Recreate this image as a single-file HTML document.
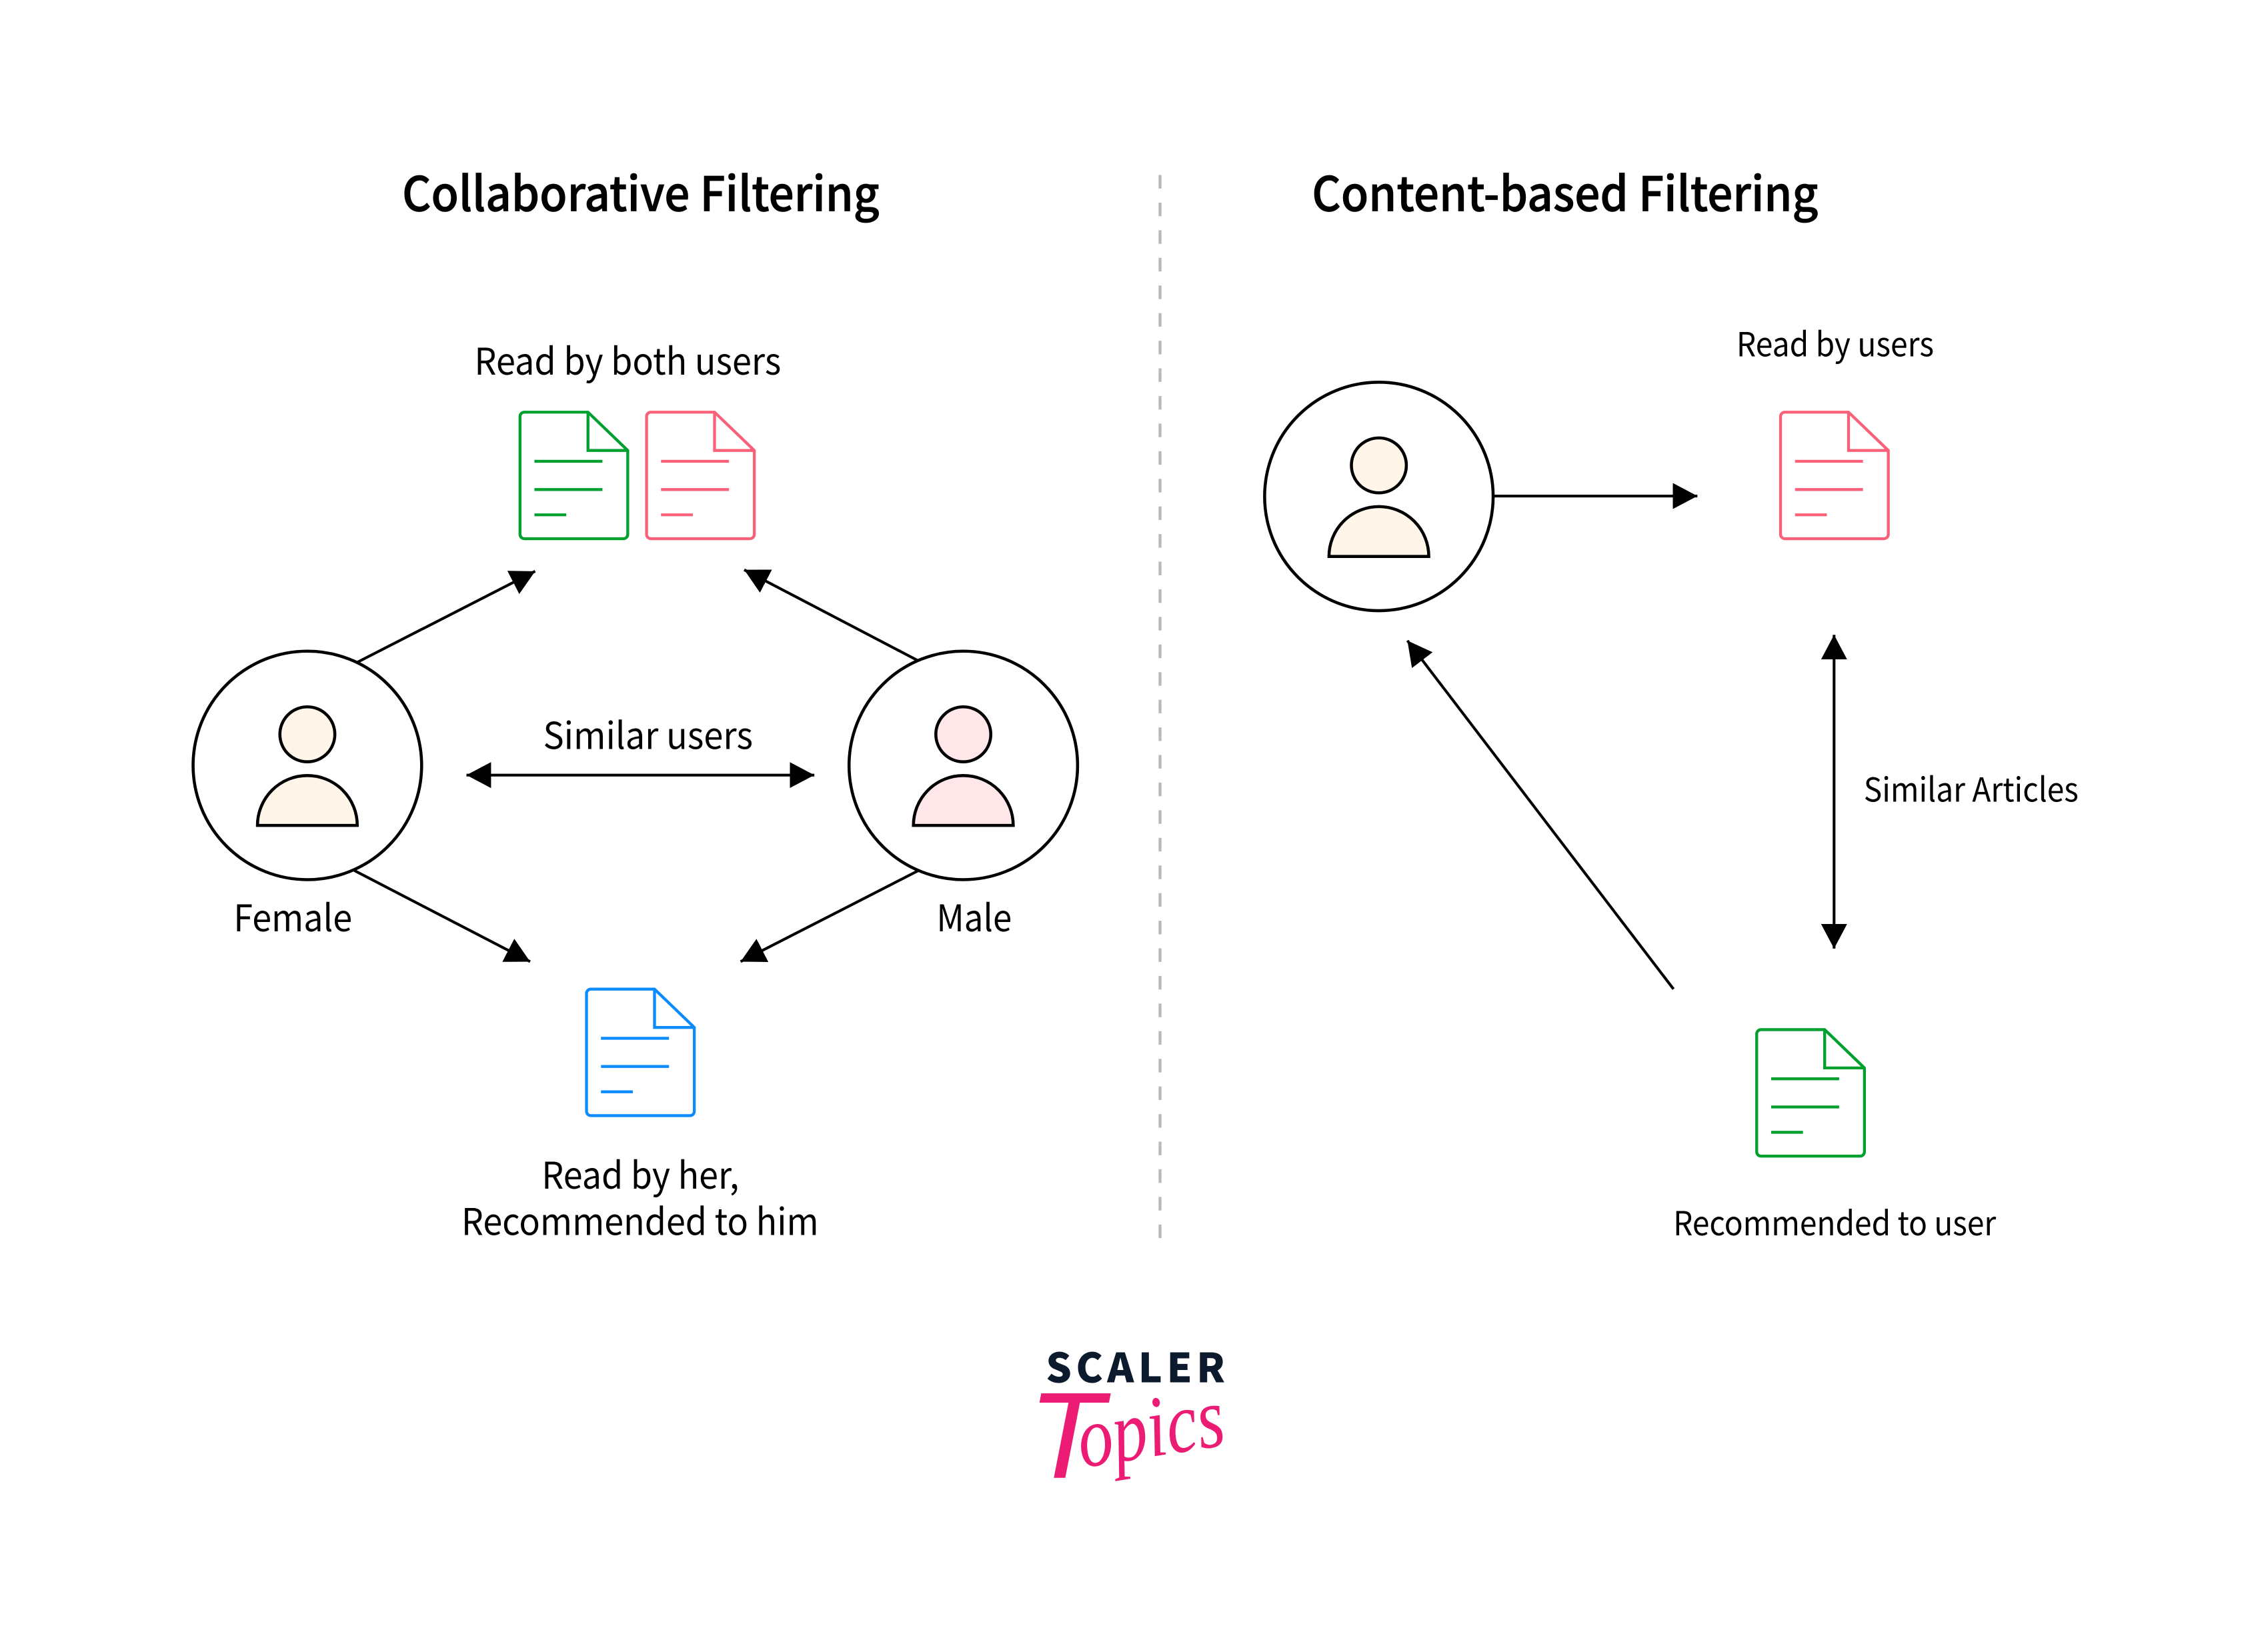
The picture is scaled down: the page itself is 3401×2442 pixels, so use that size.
<!DOCTYPE html>
<html><head><meta charset="utf-8"><style>
html,body{margin:0;padding:0;background:#fff}
svg{display:block}
text{font-family:"Noto Sans CJK SC","Liberation Sans",sans-serif;fill:#000}
.t{font-size:33px;font-weight:500;stroke:#000;stroke-width:.35}
.a{font-size:25.5px}
.b{font-size:23px}
</style></head><body>
<svg xmlns="http://www.w3.org/2000/svg" width="3401" height="2442" viewBox="0 0 1568 1125.8">
<defs>
<marker id="h" markerUnits="userSpaceOnUse" markerWidth="18" markerHeight="20" refX="17" refY="10" orient="auto-start-reverse" viewBox="0 0 18 20"><path d="M0,1 L17,10 L0,19Z" fill="#000"/></marker>
<g id="d" fill="none" stroke="currentColor" stroke-width="2">
<path d="M3,0.5H47L74.5,27V85a3,3 0 0 1-3,3H3a3,3 0 0 1-3-3V3.5a3,3 0 0 1 3-3Z"/>
<path d="M47,0.5V27H74.5"/>
<path d="M10,34.5H57M10,54H57M10,71.5H32"/>
</g>
<g id="p" stroke="#000" stroke-width="2.1">
<circle cx="0" cy="0" r="79" fill="#fff"/>
<circle cx="0" cy="-21.5" r="19"/>
<path d="M-34.5,41.5A34.5,34.5 0 0 1 34.5,41.5Z"/>
</g>
</defs>
<rect width="1568" height="1126" fill="#fff"/>
<line x1="802" y1="121" x2="802" y2="858" stroke="#b9b9b9" stroke-width="2" stroke-dasharray="9.4 9.7"/>

<text class="t" x="278" y="146" textLength="330" lengthAdjust="spacingAndGlyphs">Collaborative Filtering</text>
<text class="t" x="907" y="146" textLength="350" lengthAdjust="spacingAndGlyphs">Content-based Filtering</text>

<text class="a" x="328" y="259" textLength="212" lengthAdjust="spacingAndGlyphs">Read by both users</text>
<text class="a" x="375.5" y="518" textLength="145" lengthAdjust="spacingAndGlyphs">Similar users</text>
<text class="a" x="161.5" y="644" textLength="82" lengthAdjust="spacingAndGlyphs">Female</text>
<text class="a" x="647.5" y="644" textLength="52" lengthAdjust="spacingAndGlyphs">Male</text>
<text class="a" x="374.5" y="822" textLength="136.5" lengthAdjust="spacingAndGlyphs">Read by her,</text>
<text class="a" x="319" y="854" textLength="247" lengthAdjust="spacingAndGlyphs">Recommended to him</text>
<text class="b" x="1200.5" y="246.3" textLength="136.5" lengthAdjust="spacingAndGlyphs">Read by users</text>
<text class="b" x="1288.5" y="554.3" textLength="148.5" lengthAdjust="spacingAndGlyphs">Similar Articles</text>
<text class="b" x="1156.8" y="854.3" textLength="223.2" lengthAdjust="spacingAndGlyphs">Recommended to user</text>

<g color="#00A02F"><use href="#d" x="359.5" y="284.5"/></g>
<g color="#F9607A"><use href="#d" x="447" y="284.5"/></g>
<g color="#0A8CFF"><use href="#d" x="405.5" y="683.5"/></g>
<g color="#F9607A"><use href="#d" x="1231" y="284.5"/></g>
<g color="#00A02F"><use href="#d" x="1214.5" y="711.5"/></g>

<g fill="#FFF5E8"><use href="#p" x="212.5" y="529.3"/></g>
<g fill="#FFE6E9"><use href="#p" x="666" y="529.3"/></g>
<g fill="#FFF5E8"><use href="#p" x="953.3" y="343.3"/></g>

<g stroke="#000" stroke-width="1.9" fill="none">
<line x1="247" y1="458" x2="370" y2="395" marker-end="url(#h)"/>
<line x1="635" y1="457" x2="514.5" y2="394" marker-end="url(#h)"/>
<line x1="245" y1="602" x2="366.5" y2="665" marker-end="url(#h)"/>
<line x1="635" y1="602" x2="512" y2="665" marker-end="url(#h)"/>
<line x1="322.5" y1="536" x2="563" y2="536" marker-start="url(#h)" marker-end="url(#h)"/>
<line x1="1033" y1="343" x2="1173.5" y2="343" marker-end="url(#h)"/>
<line x1="1157" y1="684" x2="973" y2="443" marker-end="url(#h)"/>
<line x1="1268" y1="439" x2="1268" y2="656" marker-start="url(#h)" marker-end="url(#h)"/>
</g>

<text x="723" y="956" textLength="124" lengthAdjust="spacing" style="font-weight:900;font-size:28px;fill:#0B1A2C">SCALER</text>
<text x="711" y="1022" style="font-family:'Liberation Sans',sans-serif;font-size:85px;font-style:italic;fill:#EC1C74">T</text>
<text transform="translate(748,1015) rotate(-9)" textLength="102" lengthAdjust="spacingAndGlyphs" style="font-family:'Liberation Serif',serif;font-size:60px;font-style:italic;fill:#EC1C74">opics</text>
</svg>
</body></html>
